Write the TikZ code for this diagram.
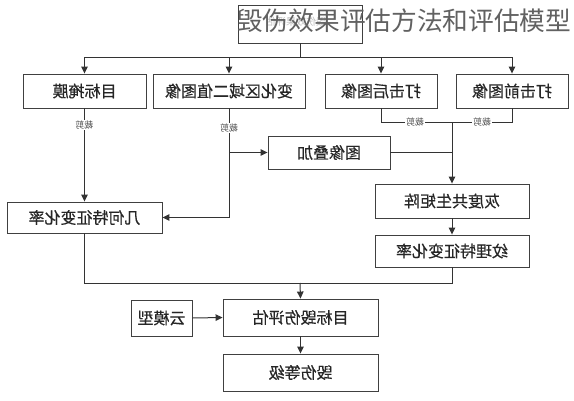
\documentclass[tikz,border=0pt]{standalone}
\usepackage{fontspec}
\usepackage{graphicx}
\newfontfamily\cjk{Noto Sans CJK SC}
\newfontfamily\cjkb{Noto Sans CJK SC}[FakeBold=0.4]
\usetikzlibrary{arrows.meta}
\newcommand\mirr[1]{\reflectbox{#1}}
\begin{document}
\begin{tikzpicture}[x=1pt,y=-1pt,
  blk/.style={draw=black!75,line width=0.9pt,fill=white,inner sep=0pt,text=black!85,font=\cjkb\fontsize{16}{16}\selectfont},
  ln/.style={draw=black!80,line width=1pt},
  arr/.style={ln,-{Triangle[length=7pt,width=6.5pt]}},
  cut/.style={fill=white,inner sep=0.6pt,text=black!70,font=\cjk\fontsize{9}{9}\selectfont}]
\useasboundingbox (0,0) rectangle (574,400);
\fill[white] (0,0) rectangle (574,400);
% boxes
\node[blk,minimum width=124pt,minimum height=38pt] (top) at (300,24) {};
\node[font=\cjk\fontsize{10}{10}\selectfont,text=black!25] (toptxt) at (296,22) {\mirr{毁伤效果评估}};
\node[anchor=west,inner sep=0pt,font=\cjk\fontsize{25.7}{26}\selectfont,text=black!62] (title) at (237,21) {毁伤效果评估方法和评估模型};
\node[blk,minimum width=123pt,minimum height=34pt] (mask) at (84.5,91) {\mirr{目标掩膜}};
\node[blk,minimum width=152pt,minimum height=34pt] (change) at (229,91) {\mirr{变化区域二值图像}};
\node[blk,minimum width=112pt,minimum height=34pt] (after) at (381,91) {\mirr{打击后图像}};
\node[blk,minimum width=112pt,minimum height=34pt] (before) at (512,91) {\mirr{打击前图像}};
\node[blk,minimum width=122pt,minimum height=33pt] (overlay) at (329,152.5) {\mirr{图像叠加}};
\node[blk,minimum width=154pt,minimum height=34pt] (glcm) at (452,201) {\mirr{灰度共生矩阵}};
\node[blk,minimum width=154pt,minimum height=32pt] (texture) at (452,251) {\mirr{纹理特征变化率}};
\node[blk,minimum width=155pt,minimum height=31pt] (geo) at (84.5,217.5) {\mirr{几何特征变化率}};
\node[blk,minimum width=155pt,minimum height=37pt] (eval) at (300.5,317.5) {\mirr{目标毁伤评估}};
\node[blk,minimum width=61pt,minimum height=36pt] (cloud) at (161.5,318) {\mirr{云模型}};
\node[blk,minimum width=155pt,minimum height=37pt] (grade) at (300.5,372.5) {\mirr{毁伤等级}};
% top bus
\coordinate (bus) at (300,57);
\draw[ln] (top.south) -- (bus);
\draw[ln] (mask.north|-bus) -- (before.north|-bus);
\foreach \n in {mask,change,after,before} \draw[arr] (\n.north|-bus) -- (\n.north);
% crop lines right
\coordinate (cy) at (452,122);
\draw[ln] (after.south) -- (after.south|-cy) -- (before.south|-cy) -- (before.south);
\node[cut] (c3) at (415,122) {\mirr{裁剪}};
\node[cut] (c4) at (482,122) {\mirr{裁剪}};
\draw[arr] (cy) -- (glcm.north);
\draw[ln] (overlay.east) -- (overlay.east -| cy);
% left branches
\draw[arr] (mask.south) -- (geo.north);
\node[cut] (c1) at (84.5,125) {\mirr{裁剪}};
\draw[ln] (change.south) -- (change.south |- geo.east);
\draw[arr] (change.south |- geo.east) -- (geo.east);
\draw[arr] (change.south |- overlay.west) -- (overlay.west);
\node[cut] (c2) at (229,128) {\mirr{裁剪}};
\draw[arr] (glcm.south) -- (texture.north);
% bottom bus
\coordinate (bb) at (300,283);
\draw[ln] (geo.south) -- (geo.south|-bb) -- (texture.south|-bb) -- (texture.south);
\draw[arr] (bb) -- (eval.north);
\draw[arr] (cloud.east) -- (eval.west);
\draw[arr] (eval.south) -- (grade.north);
\end{tikzpicture}
\end{document}
